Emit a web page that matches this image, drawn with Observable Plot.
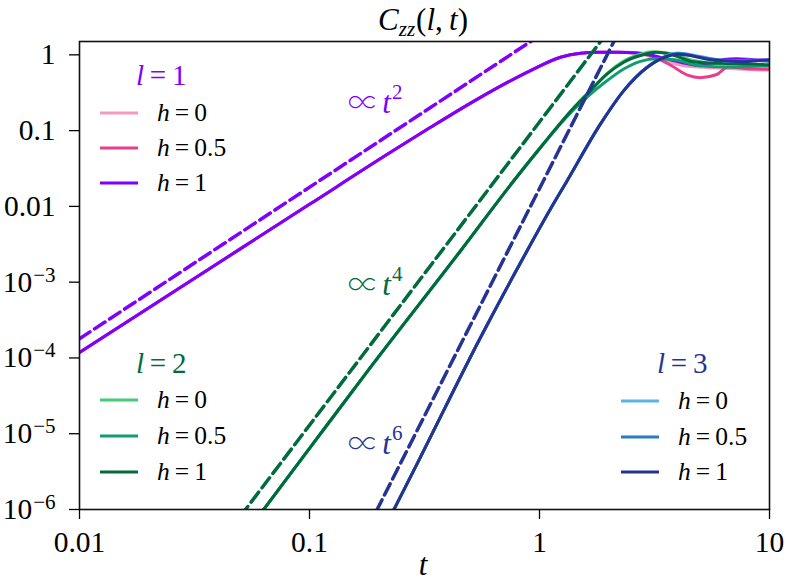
<!DOCTYPE html>
<html><head><meta charset="utf-8">
<script src="https://cdn.jsdelivr.net/npm/d3@7"></script>
<script src="https://cdn.jsdelivr.net/npm/@observablehq/plot@0.6"></script>
<style>
body{margin:0;background:#fff;}
#chart{width:789px;height:585px;}
</style></head><body><div id="chart"></div>
<script>
// ---- tick values / labels ----
const xTicks = [0.01, 0.1, 1, 10];
const xTickLabels = ["0.01", "0.1", "1", "10"];
const yTicks = [1e-6, 1e-5, 1e-4, 1e-3, 0.01, 0.1, 1];
const yTickLabels = ["10^−6", "10^−5", "10^−4", "10^−3", "0.01", "0.1", "1"];

// ---- l = 1 ----
const tL1h1 = [0.01, 0.05, 0.1, 0.225, 0.336, 0.554, 0.914, 1.234, 1.507, 1.79, 2.2, 2.6, 3.0, 3.5, 4.1, 5.0, 5.6, 6.3, 7.2, 8.5, 10];
const cL1h1 = [1.18e-4, 2.75e-3, 0.01064, 0.0517, 0.1106, 0.275, 0.62, 0.93, 1.05, 1.08, 1.08, 1.06, 1.0, 0.9, 0.8, 0.72, 0.76, 0.87, 0.89, 0.86, 0.85];
const tL1h05 = [0.01, 0.05, 0.1, 0.225, 0.336, 0.554, 0.914, 1.234, 1.507, 1.79, 2.2, 2.6, 3.03, 3.72, 4.4, 5.0, 5.9, 6.6, 7.9, 10];
const cL1h05 = [1.18e-4, 2.75e-3, 0.01064, 0.0517, 0.1106, 0.275, 0.62, 0.93, 1.05, 1.08, 1.08, 1.07, 0.98, 0.73, 0.54, 0.5, 0.55, 0.69, 0.66, 0.645];
const tL1h0 = [0.01, 0.05, 0.1, 0.225, 0.336, 0.554, 0.914, 1.234, 1.507, 1.79, 2.2, 2.6, 3.0, 3.5, 4.5, 6.0, 8.0, 10];
const cL1h0 = [1.18e-4, 2.75e-3, 0.01064, 0.0517, 0.1106, 0.275, 0.62, 0.93, 1.05, 1.08, 1.08, 1.06, 0.96, 0.83, 0.7, 0.67, 0.64, 0.63];
// dashed guide ∝ t^2 (end points)
const tL1fit = [0.01, 1.0];
const cL1fit = [1.79e-4, 1.79];

// ---- l = 2 ----
const tL2h1 = [0.06, 0.1, 0.184, 0.454, 0.773, 1.01, 1.41, 1.666, 1.97, 2.325, 2.75, 3.23, 3.7, 4.66, 5.5, 6.5, 8.0, 10];
const cL2h1 = [8.1e-7, 6.4e-6, 7.5e-5, 2.6e-3, 0.0218, 0.06, 0.20, 0.337, 0.56, 0.8, 0.98, 1.08, 1.02, 0.81, 0.78, 0.77, 0.76, 0.74];
const tL2h05 = [0.06, 0.1, 0.184, 0.454, 0.773, 1.01, 1.41, 1.56, 1.97, 2.325, 2.75, 3.23, 3.84, 5.0, 6.6, 8.0, 10];
const cL2h05 = [8.1e-7, 6.4e-6, 7.5e-5, 2.6e-3, 0.0218, 0.06, 0.19, 0.255, 0.458, 0.65, 0.82, 0.885, 0.86, 0.72, 0.69, 0.70, 0.715];
const tL2h0 = [0.06, 0.1, 0.184, 0.454, 0.773, 1.01, 1.41, 1.666, 1.97, 2.325, 2.75, 3.1, 3.7, 4.6, 5.5, 7.0, 8.5, 10];
const cL2h0 = [8.1e-7, 6.4e-6, 7.5e-5, 2.6e-3, 0.0218, 0.06, 0.20, 0.34, 0.57, 0.83, 1.02, 1.1, 1.04, 0.85, 0.78, 0.75, 0.73, 0.72];
// dashed guide ∝ t^4
const tL2fit = [0.05, 2.0];
const cL2fit = [8.1e-7, 2.08];

// ---- l = 3 ----
const tL3h1 = [0.22, 0.3, 0.554, 0.8, 1.116, 1.319, 1.842, 2.325, 2.94, 3.5, 4.0, 4.53, 5.3, 6.5, 7.76, 9.0, 10];
const cL3h1 = [7.1e-7, 4.56e-6, 1.86e-4, 1.5e-3, 9.24e-3, 0.0218, 0.1226, 0.3375, 0.686, 0.93, 1.02, 0.98, 0.88, 0.83, 0.81, 0.84, 0.86];
const tL3h05 = [0.22, 0.3, 0.554, 0.8, 1.116, 1.319, 1.842, 2.325, 2.94, 3.5, 4.0, 5.0, 6.0, 7.0, 8.5, 10];
const cL3h05 = [7.1e-7, 4.56e-6, 1.86e-4, 1.5e-3, 9.24e-3, 0.0218, 0.1226, 0.3375, 0.686, 0.94, 1.04, 0.93, 0.86, 0.84, 0.85, 0.82];
const tL3h0 = [0.22, 0.3, 0.554, 0.8, 1.116, 1.319, 1.842, 2.325, 2.94, 3.5, 4.0, 5.0, 6.0, 7.0, 8.0, 10];
const cL3h0 = [7.1e-7, 4.56e-6, 1.86e-4, 1.5e-3, 9.24e-3, 0.0218, 0.1226, 0.3375, 0.686, 0.95, 1.06, 0.95, 0.85, 0.82, 0.85, 0.83];
// dashed guide ∝ t^6
const tL3fit = [0.18, 2.2];
const cL3fit = [5.85e-7, 1.95];

// ---- annotations (data coordinates of left/baseline) ----
const annT = [0.1478, 0.1478, 0.1478];
const annC = [0.168, 6.6e-4, 5.4e-6];
const annPow = ["2", "4", "6"];

// ---- colours ----
const colL1 = ["#f49ac1", "#e83e8c", "#7f00ff"];
const colL2 = ["#45c97a", "#119e6e", "#006b3c"];
const colL3 = ["#5ab4e5", "#2b7bba", "#253494"];
const hLabels = ["0", "0.5", "1"];

const FONT = '"Liberation Serif", "Times New Roman", serif';
const PROPFONT = '"Noto Serif CJK SC", "Noto Sans CJK SC", "DejaVu Serif", serif';

const rows = (ts, cs) => ts.map((t, i) => ({t, c: cs[i]}));
const solid = (ts, cs, color) => Plot.line(rows(ts, cs), {x: "t", y: "c", stroke: color, strokeWidth: 3, curve: "monotone-x", clip: true});
const dashed = (ts, cs, color) => Plot.line(rows(ts, cs), {x: "t", y: "c", stroke: color, strokeWidth: 3.5, strokeDasharray: "12.5,5.5", clip: true});

const fmt = (ticks, labels) => d => labels[ticks.findIndex(v => Math.abs(Math.log10(v) - Math.log10(d)) < 1e-6)];

const chart = Plot.plot({
  width: 789, height: 585,
  marginTop: 41, marginBottom: 76, marginLeft: 79, marginRight: 20,
  style: {fontFamily: FONT, fontSize: "29.5px", color: "#000", background: "#fff"},
  x: {type: "log", domain: [0.01, 10]},
  y: {type: "log", domain: [1e-6, 1.5]},
  marks: [
    solid(tL1h0, cL1h0, colL1[0]),
    solid(tL1h05, cL1h05, colL1[1]),
    solid(tL1h1, cL1h1, colL1[2]),
    dashed(tL1fit, cL1fit, colL1[2]),
    solid(tL2h0, cL2h0, colL2[0]),
    solid(tL2h05, cL2h05, colL2[1]),
    solid(tL2h1, cL2h1, colL2[2]),
    dashed(tL2fit, cL2fit, colL2[2]),
    solid(tL3h0, cL3h0, colL3[0]),
    solid(tL3h05, cL3h05, colL3[1]),
    solid(tL3h1, cL3h1, colL3[2]),
    dashed(tL3fit, cL3fit, colL3[2]),
    Plot.frame({stroke: "#111", strokeWidth: 1.6}),
    Plot.axisX({ticks: xTicks, tickFormat: fmt(xTicks, xTickLabels), tickSize: 10, tickPadding: 12, fontSize: 29.5, label: null, strokeWidth: 1.3}),
    Plot.axisY({ticks: yTicks, tickFormat: fmt(yTicks, yTickLabels), tickSize: 10, tickPadding: 14, fontSize: 29.5, label: null, strokeWidth: 1.3})
  ]
});
document.getElementById("chart").appendChild(chart);

const svg = d3.select(chart);
svg.selectAll("text").attr("font-family", FONT);
// superscripts on y tick labels
svg.selectAll('g[aria-label="y-axis tick label"] text').each(function() {
  const s = this.textContent;
  if (s.startsWith("10^")) {
    const sel = d3.select(this);
    sel.text(null);
    sel.append("tspan").text("10");
    sel.append("tspan").attr("font-size", 21).attr("dy", -10).attr("dx", 1).text(s.slice(3));
  }
});

const xs = chart.scale("x"), ys = chart.scale("y");

function rich(x, y, parts, color, anchor, size) {
  const t = svg.append("text").attr("x", x).attr("y", y).attr("fill", color || "#000")
    .attr("font-family", FONT).attr("font-size", size || 28).attr("text-anchor", anchor || "start");
  parts.forEach(p => {
    const sp = t.append("tspan").text(p.s);
    if (p.i) sp.attr("font-style", "italic");
    if (p.fs) sp.attr("font-size", p.fs);
    if (p.dy) sp.attr("dy", p.dy);
    if (p.dx) sp.attr("dx", p.dx);
    if (p.ff) sp.attr("font-family", p.ff);
  });
  return t;
}

// title
rich(423, 30, [{s: "C", i: 1}, {s: "zz", i: 1, fs: 21, dy: 6}, {s: "(", dy: -6, dx: 1}, {s: "l", i: 1}, {s: ",\u2009"}, {s: "t", i: 1}, {s: ")"}], "#000", "middle", 31);
// x label
rich(423, 575, [{s: "t", i: 1}], "#000", "middle", 31);

// power-law annotations
const annCol = [colL1[2], colL2[2], colL3[2]];
annT.forEach((t, i) => {
  rich(xs.apply(t), ys.apply(annC[i]), [{s: "∝", ff: PROPFONT, fs: 28}, {s: "\u2009"}, {s: "t", i: 1}, {s: annPow[i], fs: 21, dy: -14, dx: 1}], annCol[i], "start", 31);
});

// legends
function legend(x0, yTitle, yLines, lval, cols) {
  rich(x0 + 36, yTitle, [{s: "l", i: 1}, {s: "\u2009=\u2009" + lval}], cols[2], "start", 29);
  yLines.forEach((y, i) => {
    svg.append("line").attr("x1", x0).attr("x2", x0 + 38).attr("y1", y).attr("y2", y)
      .attr("stroke", cols[i]).attr("stroke-width", 3);
    rich(x0 + 57, y + 8, [{s: "h", i: 1}, {s: "\u2009=\u2009" + hLabels[i]}], "#000", "start", 25.5);
  });
}
legend(100, 85, [113, 148, 183], "1", colL1);
legend(100, 373, [400, 436, 472], "2", colL2);
legend(621, 373, [401, 437, 472], "3", colL3);
</script></body></html>
